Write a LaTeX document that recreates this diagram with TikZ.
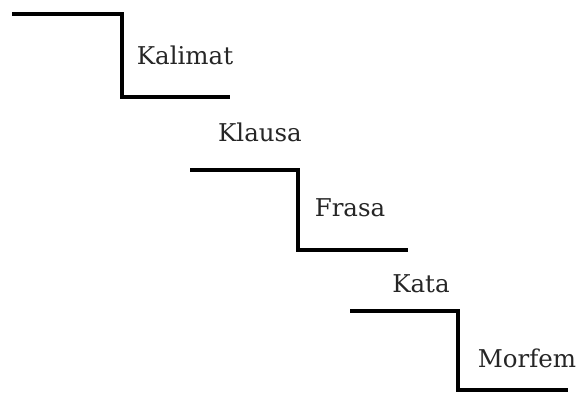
\documentclass[tikz,border=0pt]{standalone}
\usepackage{fontspec}
\setmainfont{DejaVu Serif}
\usepackage{tikz}
\usetikzlibrary{positioning}
\tikzset{stair/.style={line width=3.6pt, line join=miter}}
\tikzset{level/.style={anchor=base, inner sep=0pt, font=\fontsize{24.5}{28}\selectfont, text=black!85}}

\begin{document}
\begin{tikzpicture}[x=1pt, y=-1pt]
          \useasboundingbox (0,0) rectangle (580,395);
          % three steps
          \draw[stair] (12,14) -- (122,14) -- (122,97) -- (230,97);
          \draw[stair] (190,170) -- (298,170) -- (298,250) -- (408,250);
          \draw[stair] (350,311) -- (458,311) -- (458,390) -- (568,390);
          % labels
          \node[level] at (185,65) (kalimat) {Kalimat};
          \node[level] at (260,142) (klausa) {Klausa};
          \node[level] at (350,217) (frasa) {Frasa};
          \node[level] at (421,292) (kata) {Kata};
          \node[level] at (527,367) (morfem) {Morfem};
        \end{tikzpicture}
\end{document}
